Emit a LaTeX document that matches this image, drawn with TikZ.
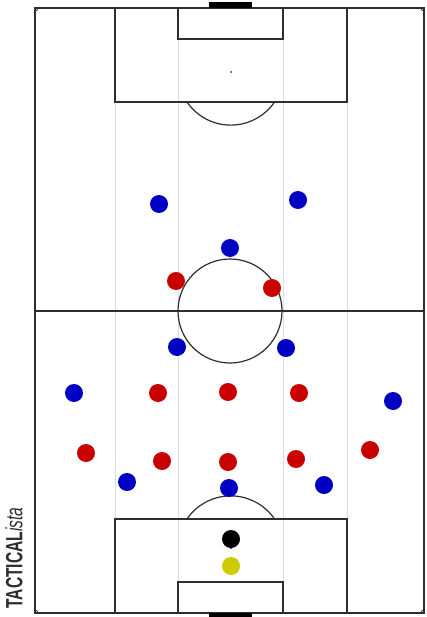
\documentclass[tikz,border=0pt]{standalone}
\usepackage{fontspec}
\setmainfont{Liberation Sans}
\usepackage{graphicx}
\usepackage{tikz}
\definecolor{pitch_line}{HTML}{2E2E2E}
\definecolor{pitch_grid}{HTML}{DCDCDC}
\definecolor{team_blue}{HTML}{0000C4}
\definecolor{team_red}{HTML}{C80000}
\definecolor{ball_yellow}{HTML}{CCCC00}

\begin{document}
\begin{tikzpicture}[
    x=1pt, y=-1pt,
    line/.style={pitch_line, line width=1.2pt},
    grid/.style={pitch_grid, line width=0.7pt},
    blueplayer/.style={circle, fill=team_blue, inner sep=0pt, minimum size=18pt},
    redplayer/.style={circle, fill=team_red, inner sep=0pt, minimum size=18pt},
    spot/.style={circle, fill=pitch_line, inner sep=0pt, minimum size=2pt}
]
\useasboundingbox[fill=white] (0,0) rectangle (427,617);

% ---------------------------------------------------------------
%  Pitch in pixel units (origin top left, y pointing down)
%    touch lines   x = 35 .. 424
%    goal lines    y = 8 .. 613
% ---------------------------------------------------------------

\coordinate (tl) at ( 35,   8);
\coordinate (br) at (424, 613);
\coordinate (ml) at ( 35, 311);
\coordinate (mr) at (424, 311);

% ---- Faint guide lines (channels) ----
\draw[grid] (115, 8) -- (115, 613);
\draw[grid] (178, 8) -- (178, 613);
\draw[grid] (283, 8) -- (283, 613);
\draw[grid] (347, 8) -- (347, 613);

% ---- Outline, halfway line, centre circle ----
\draw[line] (tl) rectangle (br);
\draw[line] (ml) -- (mr);
\node[spot] (centre) at (230, 311) {};
\draw[line] (centre) circle[radius=52pt];

% ---- Top end ----
\draw[line] (115, 8) rectangle (347, 102);
\draw[line] (178, 8) rectangle (283, 39);
\node[spot] (spottop) at (231, 72) {};
\draw[line] (187, 102) arc[start angle=214.3, end angle=325.7, radius=53pt];
\fill[black] (209, 2) rectangle (252, 8);

% ---- Bottom end ----
\draw[line] (115, 519) rectangle (347, 613);
\draw[line] (178, 582) rectangle (283, 613);
\node[spot] (spotbottom) at (231, 548) {};
\draw[line] (187, 519) arc[start angle=145.7, end angle=34.3, radius=53pt];
\fill[black] (209, 613) rectangle (252, 617);

% ---- Corner arcs ----
\draw[line, line width=0.8pt] ( 38,   8) arc[start angle=0,   end angle=-90, radius=3pt];
\draw[line, line width=0.8pt] (421,   8) arc[start angle=180, end angle=270, radius=3pt];
\draw[line, line width=0.8pt] ( 38, 613) arc[start angle=0,   end angle=90,  radius=3pt];
\draw[line, line width=0.8pt] (421, 613) arc[start angle=180, end angle=90,  radius=3pt];

% ---- Blue team ----
\node[blueplayer] (b1)  at (159, 204) {};
\node[blueplayer] (b2)  at (298, 200) {};
\node[blueplayer] (b3)  at (230, 248) {};
\node[blueplayer] (b4)  at (177, 347) {};
\node[blueplayer] (b5)  at (286, 348) {};
\node[blueplayer] (b6)  at ( 74, 393) {};
\node[blueplayer] (b7)  at (393, 401) {};
\node[blueplayer] (b8)  at (127, 482) {};
\node[blueplayer] (b9)  at (229, 488) {};
\node[blueplayer] (b10) at (324, 485) {};

% ---- Red team ----
\node[redplayer] (r1)  at (176, 281) {};
\node[redplayer] (r2)  at (272, 288) {};
\node[redplayer] (r3)  at (158, 393) {};
\node[redplayer] (r4)  at (228, 392) {};
\node[redplayer] (r5)  at (299, 393) {};
\node[redplayer] (r6)  at ( 86, 453) {};
\node[redplayer] (r7)  at (162, 461) {};
\node[redplayer] (r8)  at (228, 462) {};
\node[redplayer] (r9)  at (296, 459) {};
\node[redplayer] (r10) at (370, 450) {};

% ---- Keeper and referee marker ----
\node[circle, fill=black, inner sep=0pt, minimum size=18pt] (keeper) at (231, 539) {};
\node[circle, fill=ball_yellow, inner sep=0pt, minimum size=18pt] (marker) at (231, 566) {};

% ---- Brand ----
\node[rotate=90, inner sep=0pt, pitch_line] (brand) at (14, 558)
    {\resizebox{101pt}{17pt}{\textbf{TACTICAL}\textit{ista}}};

\end{tikzpicture}
\end{document}
